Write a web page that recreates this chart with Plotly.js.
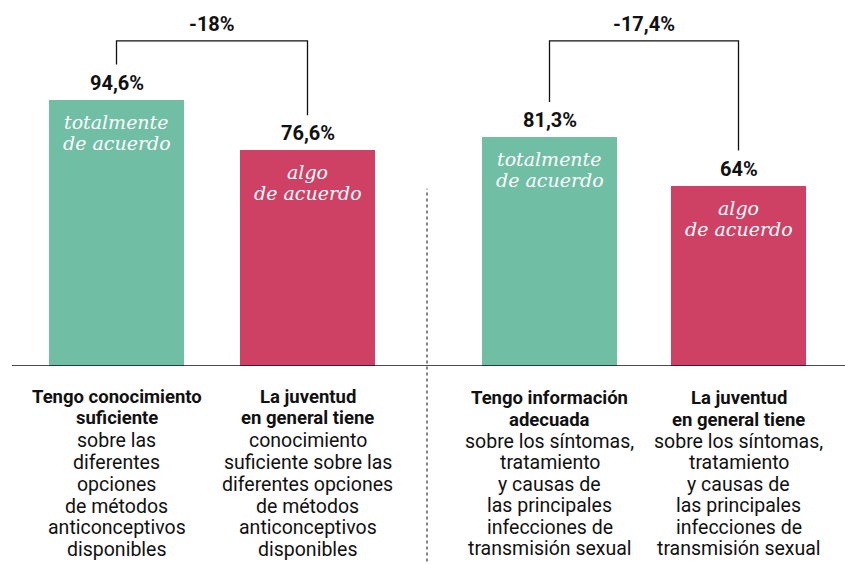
<!DOCTYPE html>
<html>
<head>
<meta charset="utf-8">
<script src="https://cdn.plot.ly/plotly-3.0.1.min.js"></script>
<style>html,body{margin:0;padding:0;background:#fff;}#chart{width:845px;height:564px;}</style>
</head>
<body>
<div id="chart"></div>
<script>
// ---- data ----
var groupA_boldLines = [
  ["Tengo conocimiento", "suficiente"],
  ["La juventud", "en general tiene"]
];
var groupA_restLines = [
  ["sobre las", "diferentes", "opciones", "de métodos", "anticonceptivos", "disponibles"],
  ["conocimiento", "suficiente sobre las", "diferentes opciones", "de métodos", "anticonceptivos", "disponibles"]
];
var groupA_values = [94.6, 76.6];
var groupB_boldLines = [
  ["Tengo información", "adecuada"],
  ["La juventud", "en general tiene"]
];
var groupB_restLines = [
  ["sobre los síntomas,", "tratamiento", "y causas de", "las principales", "infecciones de", "transmisión sexual"],
  ["sobre los síntomas,", "tratamiento", "y causas de", "las principales", "infecciones de", "transmisión sexual"]
];
var groupB_values = [81.3, 64];
var barTags = [["totalmente", "de acuerdo"], ["algo", "de acuerdo"]];
var diffLabels = ["-18%", "-17,4%"];

// ---- styles ----
var GREEN = "#70BEA3", RED = "#CE4165", INK = "#111111";
var colors = [GREEN, RED];
var SANS = "Roboto, 'Noto Sans', sans-serif";
var SERIF = "'DejaVu Serif', serif";

function fmt(v){ return String(v).replace('.', ',') + '%'; }
var keysA = ["a0","a1"], keysB = ["b0","b1"];

var traces = [
  {type:'bar', x:keysA, y:groupA_values, xaxis:'x', yaxis:'y', width:0.71,
   marker:{color:colors, line:{width:0}}, hoverinfo:'skip'},
  {type:'bar', x:keysB, y:groupB_values, xaxis:'x2', yaxis:'y', width:0.71,
   marker:{color:colors, line:{width:0}}, hoverinfo:'skip'}
];

var annotations = [], shapes = [];
var groups = [
  {keys:keysA, vals:groupA_values, bold:groupA_boldLines, rest:groupA_restLines, xr:'x', labY:-30.5, step:21.9, diff:diffLabels[0]},
  {keys:keysB, vals:groupB_values, bold:groupB_boldLines, rest:groupB_restLines, xr:'x2', labY:-32, step:21.5, diff:diffLabels[1]}
];
var BRACKET_TOP = 115.5, BRACKET_GAP = 12.5;
groups.forEach(function(g){
  g.keys.forEach(function(k,i){
    // value labels
    annotations.push({xref:g.xr, yref:'y', x:k, y:g.vals[i], text:'<b>'+fmt(g.vals[i])+'</b>',
      showarrow:false, yanchor:'middle', yshift:17, font:{family:SANS, size:20, color:INK}});
    // tag inside bar
    barTags[i].forEach(function(t,j){
      annotations.push({xref:g.xr, yref:'y', x:k, y:g.vals[i], text:'<i>'+t+'</i>',
        showarrow:false, yanchor:'middle', yshift:-22 - 21*j, font:{family:SERIF, size:19, color:'#ffffff'}});
    });
    // category label lines
    var n = 0;
    g.bold[i].forEach(function(s){
      annotations.push({xref:g.xr, yref:'y', x:k, y:0, text:'<b>'+s+'</b>', showarrow:false,
        yanchor:'middle', yshift:g.labY - g.step*(n++), font:{family:SANS, size:18.5, color:INK}});
    });
    g.rest[i].forEach(function(s){
      annotations.push({xref:g.xr, yref:'y', x:k, y:0, text:s, showarrow:false,
        yanchor:'middle', yshift:g.labY - g.step*(n++), font:{family:SANS, size:19.5, color:INK}});
    });
  });
  // bracket
  shapes.push({type:'path', xref:g.xr, yref:'y',
    path:'M '+g.keys[0]+','+(g.vals[0]+BRACKET_GAP)+' L '+g.keys[0]+','+BRACKET_TOP+
         ' L '+g.keys[1]+','+BRACKET_TOP+' L '+g.keys[1]+','+(g.vals[1]+BRACKET_GAP),
    line:{color:INK, width:1.3}});
  annotations.push({xref:g.xr==='x'?'x domain':'x2 domain', yref:'y', x:0.5, y:BRACKET_TOP,
    text:'<b>'+g.diff+'</b>', showarrow:false, yanchor:'middle', yshift:17,
    font:{family:SANS, size:20, color:INK}});
});

// baseline and separator
shapes.push({type:'line', xref:'paper', yref:'y', x0:12/845, x1:1, y0:0, y1:0,
  line:{color:INK, width:1.6}});
shapes.push({type:'line', xref:'paper', yref:'paper', x0:427/845, x1:427/845,
  y0:-0.6, y1:(366.5-189)/366.5, line:{color:'#333333', width:1.2, dash:'dot'}});

var layout = {
  width:845, height:564,
  margin:{l:0, r:0, t:0, b:197.5},
  paper_bgcolor:'#ffffff', plot_bgcolor:'#ffffff',
  showlegend:false, bargap:0,
  xaxis:{domain:[21/845, 403/845], type:'category', range:[-0.5,1.5], showticklabels:false,
    showgrid:false, zeroline:false, showline:false, ticks:'', fixedrange:true},
  xaxis2:{domain:[455/845, 833/845], type:'category', range:[-0.5,1.5], anchor:'y', showticklabels:false,
    showgrid:false, zeroline:false, showline:false, ticks:'', fixedrange:true},
  yaxis:{range:[0,130], visible:false, fixedrange:true},
  annotations:annotations,
  shapes:shapes
};
Plotly.newPlot('chart', traces, layout, {displayModeBar:false, staticPlot:true});
</script>
</body>
</html>
